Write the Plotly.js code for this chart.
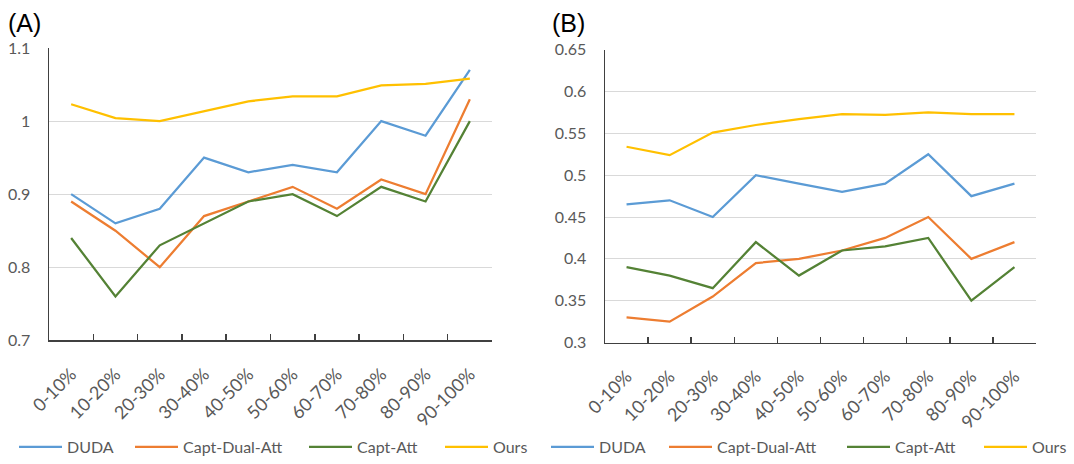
<!DOCTYPE html>
<html>
<head>
<meta charset="utf-8">
<script src="https://cdn.plot.ly/plotly-3.0.1.min.js"></script>
<style>html,body{margin:0;padding:0;background:#fff;}#chart{width:1074px;height:464px;}</style>
</head>
<body>
<div id="chart"></div>
<script>
const categories = ["0-10%","10-20%","20-30%","30-40%","40-50%","50-60%","60-70%","70-80%","80-90%","90-100%"];
const seriesNames = ["DUDA","Capt-Dual-Att","Capt-Att","Ours"];
const seriesColors = ["#5B9BD5","#ED7D31","#548235","#FFC000"];

// Panel (A)
const dudaA        = [0.90, 0.86, 0.88, 0.95, 0.93, 0.94, 0.93, 1.00, 0.98, 1.07];
const captDualAttA = [0.89, 0.85, 0.80, 0.87, 0.89, 0.91, 0.88, 0.92, 0.90, 1.03];
const captAttA     = [0.84, 0.76, 0.83, 0.86, 0.89, 0.90, 0.87, 0.91, 0.89, 1.00];
const oursA        = [1.023, 1.004, 1.000, 1.013, 1.027, 1.034, 1.034, 1.049, 1.051, 1.058];

// Panel (B)
const dudaB        = [0.465, 0.470, 0.450, 0.500, 0.490, 0.480, 0.490, 0.525, 0.475, 0.490];
const captDualAttB = [0.330, 0.325, 0.355, 0.395, 0.400, 0.410, 0.425, 0.450, 0.400, 0.420];
const captAttB     = [0.390, 0.380, 0.365, 0.420, 0.380, 0.410, 0.415, 0.425, 0.350, 0.390];
const oursB        = [0.534, 0.524, 0.551, 0.560, 0.567, 0.573, 0.572, 0.575, 0.573, 0.573];

const panelA = [dudaA, captDualAttA, captAttA, oursA];
const panelB = [dudaB, captDualAttB, captAttB, oursB];

const W = 1074, H = 464;
const FONT = "Lato, 'Open Sans', sans-serif";

// legend line start x positions (pixels) for each entry
const legendXA = [19, 135, 309, 445];
const legendXB = [551, 669, 847, 984];

const traces = [];
panelA.forEach((ys, i) => traces.push({
  type: "scatter", mode: "lines", x: categories, y: ys, name: seriesNames[i],
  line: {color: seriesColors[i], width: 2.25}, xaxis: "x", yaxis: "y",
  legend: i === 0 ? "legend" : "legend" + (i + 1)
}));
panelB.forEach((ys, i) => traces.push({
  type: "scatter", mode: "lines", x: categories, y: ys, name: seriesNames[i],
  line: {color: seriesColors[i], width: 2.25}, xaxis: "x2", yaxis: "y2",
  legend: "legend" + (i + 5)
}));

const xBase = {
  type: "category", range: [-0.5, 9.5], tickangle: -45,
  tickfont: {family: FONT, size: 18, color: "#595959"}, ticklabelstandoff: 15,
  showline: true, linecolor: "#404040", linewidth: 1.5,
  ticks: "inside", tickson: "boundaries", ticklen: 6, tickcolor: "#404040", tickwidth: 1.5,
  showgrid: false, zeroline: false, automargin: false, fixedrange: true
};
const yBase = {
  tickfont: {family: FONT, size: 16, color: "#595959"}, ticklabelstandoff: 14,
  showline: true, linecolor: "#404040", linewidth: 1.5, ticks: "",
  showgrid: true, gridcolor: "#D9D9D9", gridwidth: 1, zeroline: false,
  automargin: false, fixedrange: true
};

const legendBase = {
  orientation: "h", yanchor: "middle", xanchor: "left", y: 8 / H,
  font: {family: FONT, size: 16, color: "#595959"},
  bgcolor: "rgba(0,0,0,0)", itemclick: false, itemdoubleclick: false,
  borderwidth: 0, itemwidth: 43
};

const layout = {
  width: W, height: H,
  margin: {l: 0, r: 0, t: 0, b: 0},
  paper_bgcolor: "#ffffff", plot_bgcolor: "#ffffff",
  showlegend: true,
  xaxis: Object.assign({}, xBase, {domain: [49/W, 492/W], anchor: "y"}),
  yaxis: Object.assign({}, yBase, {domain: [(H-347)/H, (H-49)/H], range: [0.7, 1.1], dtick: 0.1, tick0: 0.7, anchor: "x"}),
  xaxis2: Object.assign({}, xBase, {domain: [605/W, 1036/W], anchor: "y2"}),
  yaxis2: Object.assign({}, yBase, {domain: [(H-349.3)/H, (H-50.7)/H], range: [0.3, 0.65], dtick: 0.05, tick0: 0.3, anchor: "x2"}),
  annotations: [
    {text: "(A)", xref: "paper", yref: "paper", x: 6/W, y: 1 - 7/H, xanchor: "left", yanchor: "top",
     showarrow: false, font: {family: "Liberation Sans, Arial, sans-serif", size: 25, color: "#000000"}},
    {text: "(B)", xref: "paper", yref: "paper", x: 550/W, y: 1 - 7/H, xanchor: "left", yanchor: "top",
     showarrow: false, font: {family: "Liberation Sans, Arial, sans-serif", size: 25, color: "#000000"}}
  ]
};
legendXA.concat(legendXB).forEach((px, k) => {
  const key = k === 0 ? "legend" : "legend" + (k + 1);
  layout[key] = Object.assign({}, legendBase, {x: (px - 5) / W});
});

Plotly.newPlot("chart", traces, layout, {displayModeBar: false, staticPlot: true});
</script>
</body>
</html>
